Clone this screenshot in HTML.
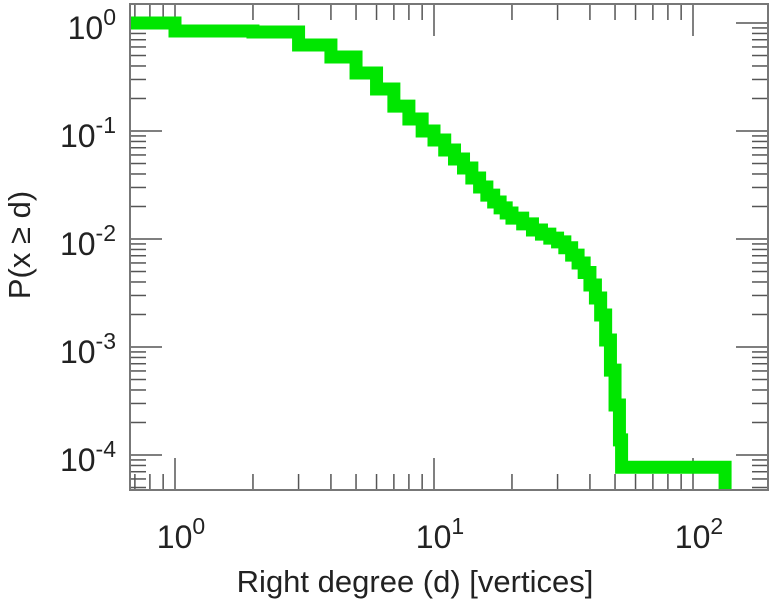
<!DOCTYPE html>
<html><head><meta charset="utf-8"><style>
body{margin:0;background:#fff}
svg{display:block;font-family:"Liberation Sans",sans-serif}
</style></head><body>
<svg id="chart" width="773" height="600" viewBox="0 0 773 600">
<defs><clipPath id="clip"><rect x="130" y="4" width="638" height="486"/></clipPath></defs>
<g id="ticks"></g>
<g id="labels"></g>
<path id="series" clip-path="url(#clip)" fill="none" stroke="#00e600" stroke-width="13" stroke-linejoin="miter"/>
<rect x="130" y="4" width="638" height="486" fill="none" stroke="#777" stroke-width="2"/>
<text x="415" y="592" font-size="31" text-anchor="middle" fill="#222">Right degree (d) [vertices]</text>
<text transform="translate(30,245) rotate(-90)" font-size="31" text-anchor="middle" fill="#222">P(x ≥ d)</text>
</svg>
<script>
const degrees=[1,2,3,4,5,6,7,8,9,10,11,12,13,14,15,16,17,18,19,20,22,24,26,28,30,32,34,36,38,40,42,44,46,48,50,52,53];
const probs=[0.843,0.826,0.626,0.484,0.344,0.245,0.170,0.129,0.100,0.0826,0.0667,0.0551,0.0454,0.0367,0.0303,0.0255,0.0220,0.0194,0.0174,0.0156,0.0138,0.0121,0.0111,0.0102,0.0094,0.0083,0.0071,0.0060,0.0049,0.00375,0.00284,0.00198,0.00116,0.00061,0.00029,0.000138,0.000077];
const lastDegree=133;
const xTickExps=[0,1,2];
const yTickExps=[0,-1,-2,-3,-4];

const X0=175,XD=259,Y0=23,YD=108,L=130,R=768,T=4,B=490;
const sx=d=>X0+Math.log10(d)*XD;
const sy=p=>Y0-Math.log10(p)*YD;
const NS="http://www.w3.org/2000/svg";

let d=`M${L-10},${sy(1)} H${sx(degrees[0])}`;
for(let i=0;i<degrees.length;i++){
  const next=i+1<degrees.length?degrees[i+1]:lastDegree;
  d+=` V${sy(probs[i])} H${sx(next)}`;
}
d+=` V${B+20}`;
document.getElementById('series').setAttribute('d',d);

const tg=document.getElementById('ticks');
function line(x1,y1,x2,y2,name){
  const l=document.createElementNS(NS,'line');
  l.setAttribute('x1',x1);l.setAttribute('y1',y1);l.setAttribute('x2',x2);l.setAttribute('y2',y2);
  l.setAttribute('stroke','#555');l.setAttribute('stroke-width','1.5');
  
  
  tg.appendChild(l);
}
for(let e=-1;e<=2;e++){for(let m=1;m<10;m++){
  const x=sx(m*Math.pow(10,e)); if(x<L||x>R) continue;
  const len=m===1?32:16;
  line(x,B,x,B-len,'x-tick');line(x,T,x,T+len,'x-tick');
}}
for(let e=-5;e<=0;e++){for(let m=1;m<10;m++){
  const y=sy(m*Math.pow(10,e)); if(y<T||y>B) continue;
  const len=m===1?32:16;
  line(L,y,L+len,y,'y-tick');line(R,y,R-len,y,'y-tick');
}}
const lg=document.getElementById('labels');
function lab(x,y,exp,anchor,name){
  const t=document.createElementNS(NS,'text');
  t.setAttribute('x',x);t.setAttribute('y',y);t.setAttribute('font-size','32');
  t.setAttribute('text-anchor',anchor);t.setAttribute('fill','#222');
  
  
  t.innerHTML=`10<tspan dy="-14" font-size="23">${exp}</tspan>`;
  lg.appendChild(t);
}
xTickExps.forEach(e=>lab(sx(Math.pow(10,e))+6,548,e,'middle','x-tick-label'));
yTickExps.forEach(e=>lab(116,sy(Math.pow(10,e))+16,e,'end','y-tick-label'));
</script>
</body></html>
